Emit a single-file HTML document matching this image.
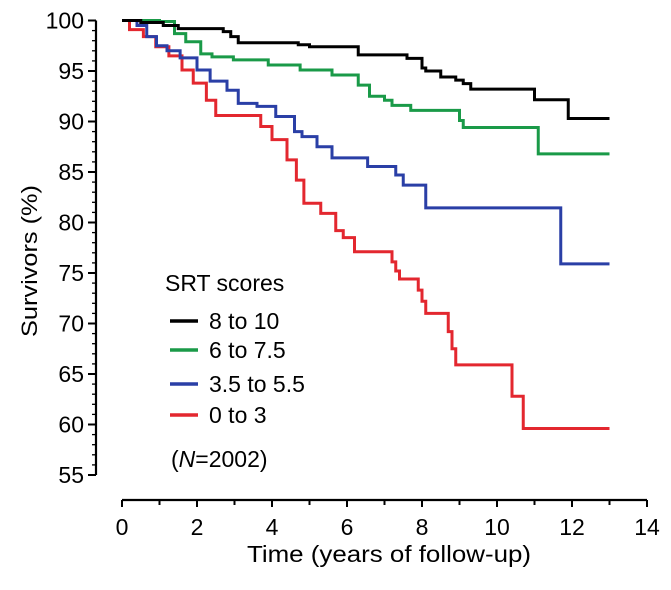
<!DOCTYPE html>
<html><head><meta charset="utf-8"><style>
body{margin:0;background:#fff}
svg{display:block;font-family:"Liberation Sans",Arial,sans-serif}
</style></head><body>
<svg id="chart" width="671" height="590" viewBox="0 0 671 590" xmlns="http://www.w3.org/2000/svg">
<g id="axes"></g>
<g id="series"></g>
<g id="legend">
<text x="165" y="291" font-size="23">SRT scores</text>
<line x1="170" y1="321" x2="198" y2="321" stroke="#000" stroke-width="3.5"/>
<text x="209" y="329" font-size="23">8 to 10</text>
<line x1="170" y1="350" x2="198" y2="350" stroke="#1a9a48" stroke-width="3.5"/>
<text x="209" y="358" font-size="23">6 to 7.5</text>
<line x1="170" y1="384" x2="198" y2="384" stroke="#2a3fa6" stroke-width="3.5"/>
<text x="209" y="392" font-size="23">3.5 to 5.5</text>
<line x1="170" y1="415" x2="198" y2="415" stroke="#e3272f" stroke-width="3.5"/>
<text x="209" y="423" font-size="23">0 to 3</text>
<text x="171" y="467" font-size="23">(<tspan font-style="italic">N</tspan>=2002)</text>
</g>
<text transform="translate(37,261) rotate(-90)" text-anchor="middle" font-size="22" textLength="152" lengthAdjust="spacingAndGlyphs">Survivors (%)</text>
<text x="389" y="562" text-anchor="middle" font-size="23" textLength="284" lengthAdjust="spacingAndGlyphs">Time (years of follow-up)</text>
</svg>
<script>
const yTicks=[55,60,65,70,75,80,85,90,95,100];
const xTicks=[0,2,4,6,8,10,12,14];
const blackT=[0,0.5,1.1,1.5,2.7,2.9,3.1,4.7,5.0,6.3,7.6,8.0,8.1,8.5,8.9,9.1,9.3,9.9,11.0,11.9,13];
const blackS=[100,99.8,99.5,99.2,98.9,98.4,97.8,97.6,97.4,96.6,96.25,95.3,95.0,94.4,94.1,93.75,93.2,93.2,92.15,90.3,90.3];
const greenT=[0,1.0,1.4,1.7,2.1,2.4,2.97,3.9,4.75,5.6,6.3,6.6,7.0,7.2,7.7,9.0,9.1,11.1,13];
const greenS=[100,99.9,98.7,97.9,96.7,96.4,96.1,95.6,95.1,94.6,93.6,92.5,92.1,91.6,91.1,90.1,89.4,86.8,86.8];
const blueT=[0,0.4,0.66,0.92,1.2,1.55,2.0,2.35,2.8,3.1,3.6,4.1,4.6,4.8,5.2,5.6,6.55,7.3,7.5,8.1,11.7,13];
const blueS=[100,99.5,98.4,97.5,97.0,96.3,95.1,94.0,93.1,91.8,91.5,90.5,89.0,88.5,87.5,86.4,85.55,84.7,83.7,81.45,75.9,75.9];
const redT=[0,0.2,0.57,0.9,1.25,1.6,1.9,2.25,2.5,3.3,3.7,4.0,4.4,4.65,4.85,5.3,5.7,5.9,6.2,7.2,7.3,7.4,7.9,8.0,8.1,8.7,8.8,8.9,10.4,10.7,13];
const redS=[100,99.1,98.4,97.4,96.5,95.1,93.8,92.1,90.6,90.6,89.5,88.2,86.2,84.2,81.9,80.9,79.2,78.5,77.1,76.1,75.2,74.4,73.3,72.2,71.0,69.2,67.5,65.9,62.8,59.6,59.6];
const NS='http://www.w3.org/2000/svg';
const xs=t=>122+t*37.5;
const ys=s=>20.5+(100-s)*10.1;
const axes=document.getElementById('axes');
function mk(tag,attrs,parent){const e=document.createElementNS(NS,tag);for(const k in attrs)e.setAttribute(k,attrs[k]);parent.appendChild(e);return e;}
const ya=mk('line',{x1:96,y1:ys(100),x2:96,y2:ys(55),stroke:'#000','stroke-width':2.2},axes);


for(let v=55;v<=100;v++){
  const major=v%5===0;
  const tk=mk('line',{x1:major?88:92,y1:ys(v),x2:96,y2:ys(v),stroke:'#000','stroke-width':major?2:1.3},axes);
  
  
}
yTicks.forEach(v=>{
  const t=mk('text',{x:84,y:ys(v)+8,'text-anchor':'end','font-size':23},axes);
  
  
  t.textContent=v;
});
const xa=mk('line',{x1:xs(0),y1:500,x2:xs(14),y2:500,stroke:'#000','stroke-width':2.2},axes);


for(let v=0;v<=14;v++){
  const major=v%2===0;
  const tk=mk('line',{x1:xs(v),y1:500,x2:xs(v),y2:major?507:505,stroke:'#000','stroke-width':2},axes);
  
  
}
xTicks.forEach(v=>{
  const t=mk('text',{x:xs(v),y:535,'text-anchor':'middle','font-size':23},axes);
  
  
  t.textContent=v;
});
const ser=document.getElementById('series');
function step(T,S,color,name){
  let d='M'+xs(T[0])+','+ys(S[0]);
  for(let i=1;i<T.length;i++){d+=' H'+xs(T[i])+' V'+ys(S[i]);}
  const p=mk('path',{d:d,fill:'none',stroke:color,'stroke-width':3,'stroke-linejoin':'miter'},ser);
  
  
}
step(redT,redS,'#e3272f','series-0-to-3');
step(blueT,blueS,'#2a3fa6','series-3.5-to-5.5');
step(greenT,greenS,'#1a9a48','series-6-to-7.5');
step(blackT,blackS,'#000','series-8-to-10');
</script>
</body></html>
